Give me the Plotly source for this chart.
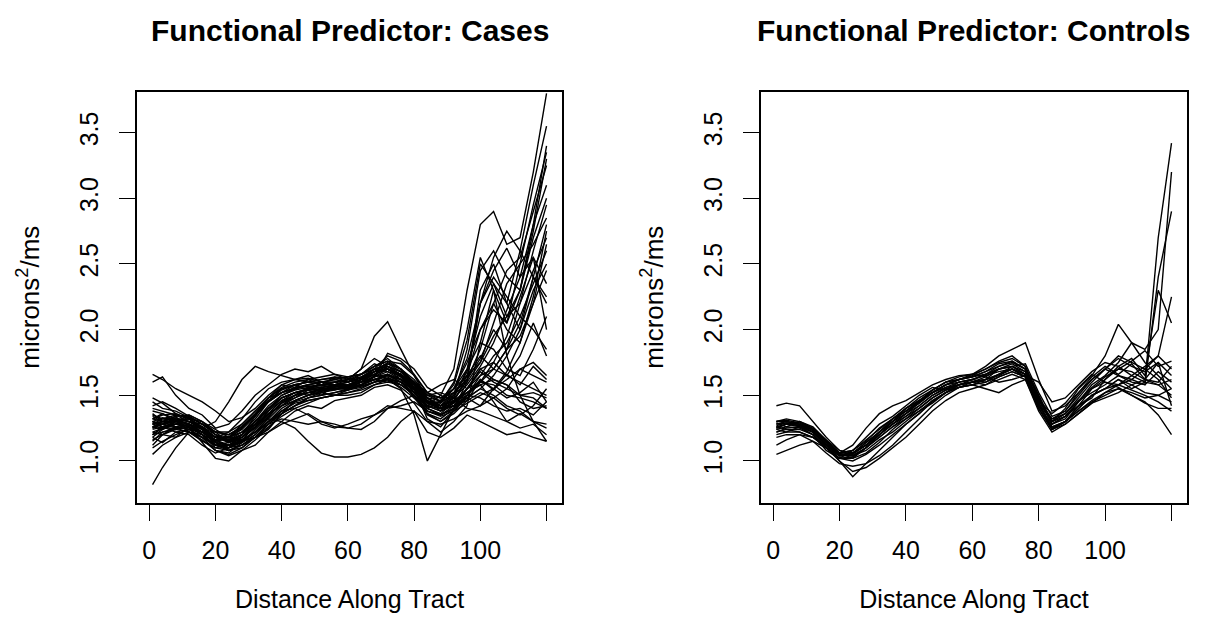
import plotly.graph_objects as go

# ---------------- data ----------------
x_grid = [1, 4, 8, 12, 16, 20, 24, 28, 32, 36, 40, 44, 48, 52, 56, 60,
          64, 68, 72, 76, 80, 84, 88, 92, 96, 100, 104, 108, 112, 116, 120]

cases_values = [
    [1.30, 1.33, 1.31, 1.28, 1.22, 1.15, 1.17, 1.25, 1.35, 1.45, 1.52, 1.55, 1.57, 1.56, 1.58, 1.60, 1.63, 1.70, 1.72, 1.65, 1.55, 1.42, 1.40, 1.48, 1.70, 2.10, 2.35, 2.20, 2.60, 3.10, 3.55],
    [1.25, 1.28, 1.32, 1.30, 1.24, 1.12, 1.10, 1.15, 1.22, 1.33, 1.45, 1.50, 1.52, 1.54, 1.55, 1.55, 1.58, 1.64, 1.66, 1.60, 1.50, 1.35, 1.30, 1.38, 1.50, 1.62, 1.55, 1.48, 1.52, 1.60, 1.45],
    [1.40, 1.38, 1.35, 1.30, 1.25, 1.18, 1.15, 1.20, 1.30, 1.40, 1.48, 1.52, 1.50, 1.53, 1.57, 1.55, 1.60, 1.68, 1.75, 1.70, 1.58, 1.45, 1.42, 1.50, 1.85, 2.45, 2.60, 2.40, 2.30, 2.75, 3.30],
    [1.15, 1.22, 1.25, 1.28, 1.20, 1.10, 1.08, 1.12, 1.20, 1.30, 1.38, 1.45, 1.48, 1.50, 1.52, 1.54, 1.58, 1.62, 1.64, 1.58, 1.50, 1.38, 1.35, 1.42, 1.55, 1.60, 1.70, 1.85, 2.20, 2.60, 2.95],
    [1.66, 1.62, 1.55, 1.50, 1.45, 1.38, 1.30, 1.33, 1.40, 1.50, 1.58, 1.62, 1.65, 1.60, 1.62, 1.64, 1.66, 1.72, 1.78, 1.70, 1.62, 1.50, 1.45, 1.55, 1.75, 2.00, 2.15, 2.05, 2.30, 2.70, 3.00],
    [0.82, 0.95, 1.10, 1.22, 1.20, 1.12, 1.08, 1.12, 1.18, 1.28, 1.36, 1.42, 1.46, 1.48, 1.50, 1.52, 1.55, 1.60, 1.62, 1.56, 1.48, 1.36, 1.32, 1.40, 1.60, 2.30, 2.50, 2.20, 2.00, 2.40, 2.80],
    [1.28, 1.32, 1.35, 1.33, 1.25, 1.30, 1.45, 1.62, 1.72, 1.68, 1.65, 1.62, 1.60, 1.62, 1.64, 1.63, 1.60, 1.62, 1.65, 1.60, 1.52, 1.42, 1.45, 1.55, 1.65, 1.80, 1.70, 1.65, 1.60, 1.55, 1.50],
    [1.32, 1.30, 1.28, 1.25, 1.20, 1.15, 1.18, 1.22, 1.28, 1.32, 1.30, 1.25, 1.15, 1.06, 1.03, 1.03, 1.05, 1.10, 1.18, 1.30, 1.38, 1.22, 1.18, 1.25, 1.35, 1.30, 1.25, 1.20, 1.22, 1.18, 1.15],
    [1.20, 1.22, 1.24, 1.22, 1.15, 1.10, 1.12, 1.15, 1.18, 1.22, 1.28, 1.32, 1.36, 1.30, 1.26, 1.25, 1.28, 1.35, 1.42, 1.40, 1.38, 1.30, 1.28, 1.32, 1.38, 1.42, 1.48, 1.55, 1.70, 1.65, 1.60],
    [1.26, 1.28, 1.32, 1.30, 1.26, 1.18, 1.16, 1.22, 1.32, 1.45, 1.52, 1.55, 1.58, 1.57, 1.60, 1.62, 1.70, 1.95, 2.06, 1.85, 1.65, 1.48, 1.42, 1.52, 1.65, 1.75, 1.95, 2.10, 2.30, 2.80, 3.40],
    [1.22, 1.25, 1.28, 1.26, 1.20, 1.12, 1.10, 1.16, 1.26, 1.38, 1.48, 1.52, 1.54, 1.55, 1.56, 1.58, 1.62, 1.66, 1.62, 1.55, 1.35, 1.00, 1.20, 1.40, 1.55, 1.70, 1.75, 1.65, 1.80, 2.05, 1.80],
    [1.35, 1.32, 1.30, 1.28, 1.22, 1.16, 1.18, 1.26, 1.36, 1.46, 1.52, 1.56, 1.58, 1.60, 1.62, 1.60, 1.63, 1.68, 1.70, 1.64, 1.52, 1.42, 1.50, 1.70, 2.30, 2.80, 2.90, 2.65, 2.70, 3.20, 3.80],
    [1.30, 1.26, 1.24, 1.28, 1.25, 1.18, 1.14, 1.18, 1.25, 1.35, 1.44, 1.50, 1.52, 1.55, 1.55, 1.57, 1.60, 1.64, 1.68, 1.65, 1.58, 1.48, 1.42, 1.46, 1.52, 1.58, 1.62, 1.58, 1.45, 1.40, 1.42],
    [1.10, 1.15, 1.20, 1.24, 1.18, 1.08, 1.04, 1.08, 1.16, 1.25, 1.36, 1.42, 1.48, 1.50, 1.52, 1.55, 1.57, 1.60, 1.62, 1.58, 1.52, 1.40, 1.35, 1.40, 1.48, 1.55, 1.65, 1.80, 2.00, 2.30, 2.50],
    [1.45, 1.40, 1.38, 1.33, 1.28, 1.22, 1.20, 1.26, 1.35, 1.45, 1.55, 1.58, 1.60, 1.58, 1.55, 1.56, 1.58, 1.62, 1.66, 1.62, 1.55, 1.45, 1.44, 1.52, 1.62, 1.85, 2.20, 2.45, 2.55, 2.90, 3.25],
    [1.28, 1.30, 1.30, 1.26, 1.20, 1.12, 1.14, 1.20, 1.30, 1.38, 1.46, 1.50, 1.55, 1.58, 1.60, 1.62, 1.66, 1.72, 1.76, 1.70, 1.60, 1.45, 1.40, 1.45, 1.55, 1.68, 1.60, 1.55, 1.50, 1.48, 1.40],
    [1.25, 1.28, 1.30, 1.28, 1.22, 1.14, 1.12, 1.16, 1.22, 1.28, 1.32, 1.30, 1.28, 1.30, 1.28, 1.25, 1.24, 1.30, 1.40, 1.46, 1.50, 1.42, 1.38, 1.42, 1.50, 1.60, 1.58, 1.50, 1.48, 1.45, 1.40],
    [1.18, 1.24, 1.30, 1.35, 1.30, 1.20, 1.15, 1.18, 1.26, 1.36, 1.46, 1.52, 1.55, 1.56, 1.58, 1.58, 1.60, 1.64, 1.70, 1.66, 1.56, 1.40, 1.36, 1.45, 1.65, 2.00, 2.20, 2.00, 1.90, 2.20, 2.65],
    [1.38, 1.36, 1.32, 1.28, 1.24, 1.18, 1.22, 1.32, 1.45, 1.55, 1.60, 1.62, 1.63, 1.60, 1.58, 1.56, 1.58, 1.65, 1.72, 1.68, 1.60, 1.50, 1.48, 1.55, 1.70, 1.90, 1.85, 1.70, 1.65, 1.85, 2.10],
    [1.22, 1.20, 1.24, 1.26, 1.22, 1.16, 1.12, 1.14, 1.20, 1.30, 1.40, 1.46, 1.50, 1.52, 1.55, 1.56, 1.60, 1.68, 1.72, 1.68, 1.60, 1.48, 1.40, 1.42, 1.48, 1.55, 1.50, 1.42, 1.38, 1.30, 1.28],
    [1.32, 1.35, 1.36, 1.32, 1.26, 1.20, 1.18, 1.22, 1.30, 1.40, 1.50, 1.55, 1.58, 1.60, 1.60, 1.58, 1.62, 1.70, 1.80, 1.76, 1.66, 1.52, 1.45, 1.50, 1.60, 1.75, 2.05, 2.35, 2.50, 2.65, 2.85],
    [1.05, 1.12, 1.18, 1.22, 1.16, 1.08, 1.05, 1.10, 1.18, 1.28, 1.38, 1.44, 1.46, 1.48, 1.50, 1.50, 1.52, 1.58, 1.62, 1.60, 1.55, 1.45, 1.40, 1.42, 1.46, 1.52, 1.48, 1.40, 1.35, 1.42, 1.55],
    [1.28, 1.30, 1.34, 1.35, 1.30, 1.22, 1.20, 1.26, 1.36, 1.48, 1.56, 1.60, 1.62, 1.64, 1.66, 1.64, 1.66, 1.72, 1.76, 1.74, 1.65, 1.52, 1.48, 1.52, 1.62, 2.20, 2.55, 2.75, 2.60, 2.40, 2.25],
    [1.20, 1.25, 1.28, 1.30, 1.28, 1.20, 1.14, 1.16, 1.22, 1.32, 1.42, 1.48, 1.52, 1.53, 1.55, 1.55, 1.57, 1.60, 1.63, 1.60, 1.54, 1.44, 1.42, 1.46, 1.52, 1.60, 1.75, 1.95, 2.25, 2.55, 2.00],
    [1.34, 1.30, 1.26, 1.24, 1.22, 1.18, 1.16, 1.20, 1.28, 1.36, 1.42, 1.46, 1.50, 1.52, 1.54, 1.56, 1.58, 1.62, 1.65, 1.62, 1.56, 1.46, 1.42, 1.45, 1.50, 1.48, 1.42, 1.38, 1.40, 1.35, 1.45],
    [1.30, 1.28, 1.26, 1.24, 1.18, 1.12, 1.10, 1.14, 1.22, 1.30, 1.38, 1.40, 1.35, 1.28, 1.25, 1.28, 1.32, 1.35, 1.40, 1.42, 1.45, 1.38, 1.35, 1.40, 1.50, 1.65, 1.80, 1.90, 2.10, 2.35, 2.60],
    [1.26, 1.30, 1.33, 1.30, 1.25, 1.18, 1.18, 1.24, 1.34, 1.46, 1.54, 1.58, 1.60, 1.60, 1.60, 1.62, 1.64, 1.70, 1.74, 1.68, 1.58, 1.46, 1.42, 1.48, 1.58, 1.72, 1.90, 2.15, 2.40, 2.80, 3.10],
    [1.16, 1.20, 1.26, 1.28, 1.24, 1.16, 1.10, 1.12, 1.18, 1.26, 1.34, 1.40, 1.44, 1.48, 1.50, 1.52, 1.54, 1.58, 1.60, 1.58, 1.50, 1.38, 1.34, 1.38, 1.44, 1.50, 1.55, 1.62, 1.70, 1.75, 1.65],
    [1.42, 1.45, 1.40, 1.34, 1.28, 1.22, 1.22, 1.28, 1.38, 1.48, 1.55, 1.58, 1.60, 1.62, 1.63, 1.64, 1.66, 1.70, 1.72, 1.66, 1.58, 1.48, 1.46, 1.55, 1.78, 2.20, 2.40, 2.25, 2.10, 2.00, 1.85],
    [1.24, 1.26, 1.28, 1.27, 1.22, 1.14, 1.12, 1.18, 1.28, 1.40, 1.48, 1.52, 1.54, 1.54, 1.56, 1.58, 1.62, 1.68, 1.70, 1.64, 1.55, 1.42, 1.38, 1.44, 1.55, 1.65, 1.70, 1.85, 1.95, 2.20, 2.45],
    [1.30, 1.28, 1.25, 1.22, 1.18, 1.12, 1.12, 1.18, 1.28, 1.40, 1.48, 1.52, 1.55, 1.56, 1.57, 1.57, 1.60, 1.66, 1.70, 1.66, 1.58, 1.45, 1.45, 1.60, 2.00, 2.55, 2.30, 1.80, 1.50, 1.30, 1.15],
    [1.28, 1.26, 1.30, 1.32, 1.26, 1.18, 1.16, 1.20, 1.30, 1.42, 1.50, 1.54, 1.56, 1.58, 1.58, 1.60, 1.64, 1.68, 1.70, 1.66, 1.58, 1.44, 1.40, 1.44, 1.52, 1.58, 1.45, 1.30, 1.25, 1.28, 1.20],
    [1.60, 1.64, 1.50, 1.40, 1.35, 1.25, 1.28, 1.38, 1.50, 1.58, 1.66, 1.70, 1.68, 1.72, 1.66, 1.62, 1.70, 1.78, 1.72, 1.68, 1.60, 1.52, 1.58, 1.62, 1.55, 1.70, 1.62, 1.58, 1.50, 1.52, 1.48],
    [1.12, 1.20, 1.18, 1.26, 1.14, 1.02, 1.00, 1.08, 1.12, 1.22, 1.30, 1.38, 1.42, 1.40, 1.46, 1.48, 1.50, 1.56, 1.58, 1.54, 1.44, 1.30, 1.22, 1.30, 1.42, 1.90, 2.30, 2.05, 2.50, 2.95, 3.35],
    [1.36, 1.30, 1.34, 1.22, 1.18, 1.08, 1.06, 1.14, 1.24, 1.34, 1.44, 1.48, 1.54, 1.50, 1.58, 1.54, 1.58, 1.62, 1.60, 1.66, 1.56, 1.32, 1.26, 1.38, 1.48, 1.42, 1.55, 1.68, 1.90, 2.25, 2.75],
    [1.20, 1.26, 1.22, 1.20, 1.12, 1.06, 1.10, 1.20, 1.34, 1.48, 1.58, 1.56, 1.62, 1.58, 1.64, 1.60, 1.66, 1.74, 1.70, 1.62, 1.48, 1.40, 1.46, 1.58, 1.92, 2.50, 2.35, 2.10, 2.20, 2.45, 2.70],
    [1.48, 1.44, 1.36, 1.32, 1.30, 1.24, 1.18, 1.16, 1.22, 1.30, 1.36, 1.42, 1.48, 1.52, 1.50, 1.54, 1.56, 1.60, 1.66, 1.62, 1.58, 1.50, 1.52, 1.48, 1.40, 1.38, 1.34, 1.30, 1.36, 1.30, 1.25],
    [1.18, 1.14, 1.22, 1.24, 1.26, 1.14, 1.08, 1.10, 1.18, 1.24, 1.36, 1.46, 1.50, 1.56, 1.54, 1.58, 1.62, 1.66, 1.74, 1.70, 1.60, 1.46, 1.38, 1.50, 1.68, 2.20, 2.45, 2.62, 2.40, 2.55, 2.35],
    [1.32, 1.36, 1.30, 1.32, 1.24, 1.16, 1.18, 1.28, 1.38, 1.48, 1.52, 1.58, 1.54, 1.60, 1.58, 1.62, 1.58, 1.64, 1.82, 1.78, 1.70, 1.56, 1.50, 1.46, 1.62, 1.78, 2.00, 1.85, 2.05, 2.40, 2.20],
    [1.26, 1.24, 1.28, 1.34, 1.28, 1.22, 1.14, 1.18, 1.26, 1.36, 1.42, 1.50, 1.56, 1.54, 1.58, 1.56, 1.62, 1.70, 1.68, 1.62, 1.54, 1.36, 1.30, 1.36, 1.46, 1.62, 1.54, 1.66, 1.58, 1.72, 1.62],
]

controls_values = [
    [1.25, 1.28, 1.27, 1.22, 1.12, 1.04, 1.06, 1.14, 1.22, 1.30, 1.36, 1.44, 1.52, 1.58, 1.62, 1.64, 1.68, 1.72, 1.76, 1.70, 1.42, 1.26, 1.30, 1.40, 1.50, 1.55, 1.62, 1.55, 1.60, 2.70, 3.42],
    [1.42, 1.44, 1.42, 1.30, 1.18, 1.08, 1.06, 1.12, 1.20, 1.28, 1.36, 1.45, 1.54, 1.60, 1.62, 1.65, 1.70, 1.75, 1.78, 1.72, 1.50, 1.30, 1.36, 1.48, 1.60, 1.70, 1.80, 1.75, 1.70, 1.80, 2.25],
    [1.05, 1.08, 1.12, 1.15, 1.10, 1.02, 1.00, 1.05, 1.12, 1.20, 1.28, 1.36, 1.45, 1.52, 1.58, 1.60, 1.62, 1.65, 1.70, 1.66, 1.40, 1.24, 1.30, 1.38, 1.45, 1.50, 1.55, 1.50, 1.45, 1.35, 1.20],
    [1.30, 1.32, 1.30, 1.25, 1.15, 1.06, 1.08, 1.15, 1.25, 1.32, 1.40, 1.46, 1.52, 1.58, 1.60, 1.62, 1.66, 1.72, 1.75, 1.70, 1.48, 1.28, 1.32, 1.45, 1.58, 1.65, 1.75, 1.90, 1.85, 2.00, 3.20],
    [1.22, 1.24, 1.24, 1.20, 1.10, 1.00, 0.92, 0.95, 1.02, 1.10, 1.18, 1.28, 1.38, 1.46, 1.52, 1.55, 1.58, 1.62, 1.66, 1.62, 1.38, 1.22, 1.28, 1.36, 1.44, 1.52, 1.58, 1.54, 1.50, 1.45, 1.38],
    [1.28, 1.30, 1.28, 1.24, 1.14, 1.05, 1.04, 1.10, 1.20, 1.30, 1.40, 1.48, 1.54, 1.60, 1.64, 1.66, 1.70, 1.76, 1.80, 1.72, 1.46, 1.30, 1.40, 1.55, 1.65, 1.80, 2.04, 1.90, 1.75, 1.65, 1.55],
    [1.20, 1.22, 1.22, 1.18, 1.10, 1.02, 1.02, 1.10, 1.18, 1.26, 1.34, 1.42, 1.50, 1.55, 1.58, 1.60, 1.64, 1.70, 1.72, 1.66, 1.44, 1.26, 1.30, 1.40, 1.50, 1.55, 1.58, 1.65, 1.72, 1.80, 1.70],
    [1.27, 1.29, 1.27, 1.24, 1.15, 1.06, 1.08, 1.16, 1.24, 1.32, 1.38, 1.46, 1.54, 1.60, 1.62, 1.64, 1.66, 1.70, 1.72, 1.66, 1.46, 1.32, 1.38, 1.50, 1.62, 1.70, 1.65, 1.60, 1.58, 2.40, 2.90],
    [1.18, 1.20, 1.20, 1.15, 1.06, 0.98, 0.96, 0.98, 1.04, 1.12, 1.22, 1.32, 1.42, 1.50, 1.56, 1.58, 1.60, 1.64, 1.68, 1.64, 1.42, 1.28, 1.34, 1.42, 1.50, 1.55, 1.62, 1.58, 1.52, 1.50, 1.45],
    [1.25, 1.28, 1.30, 1.26, 1.16, 1.06, 1.12, 1.25, 1.36, 1.42, 1.46, 1.52, 1.58, 1.62, 1.65, 1.66, 1.64, 1.60, 1.62, 1.65, 1.60, 1.45, 1.48, 1.58, 1.68, 1.75, 1.72, 1.65, 1.60, 1.58, 1.50],
    [1.30, 1.30, 1.28, 1.22, 1.12, 1.04, 1.06, 1.14, 1.22, 1.30, 1.38, 1.44, 1.52, 1.58, 1.62, 1.66, 1.72, 1.80, 1.85, 1.90, 1.62, 1.38, 1.42, 1.52, 1.62, 1.70, 1.78, 1.72, 1.68, 1.75, 1.65],
    [1.24, 1.26, 1.25, 1.20, 1.10, 1.02, 1.03, 1.10, 1.18, 1.26, 1.32, 1.40, 1.48, 1.54, 1.56, 1.58, 1.55, 1.52, 1.58, 1.62, 1.40, 1.25, 1.30, 1.38, 1.46, 1.52, 1.55, 1.52, 1.48, 1.50, 1.55],
    [1.26, 1.28, 1.26, 1.22, 1.12, 1.04, 1.04, 1.10, 1.20, 1.28, 1.36, 1.42, 1.50, 1.56, 1.60, 1.62, 1.66, 1.70, 1.74, 1.68, 1.44, 1.24, 1.28, 1.36, 1.44, 1.48, 1.52, 1.58, 1.62, 1.75, 1.42],
    [1.22, 1.25, 1.26, 1.22, 1.12, 1.00, 0.88, 0.98, 1.08, 1.18, 1.28, 1.36, 1.46, 1.52, 1.58, 1.62, 1.65, 1.68, 1.70, 1.64, 1.40, 1.24, 1.30, 1.42, 1.55, 1.60, 1.58, 1.62, 1.70, 1.62, 1.48],
    [1.28, 1.29, 1.28, 1.23, 1.13, 1.05, 1.06, 1.12, 1.22, 1.30, 1.38, 1.45, 1.52, 1.58, 1.62, 1.64, 1.68, 1.74, 1.76, 1.70, 1.48, 1.30, 1.34, 1.45, 1.55, 1.62, 1.72, 1.78, 1.65, 2.30, 2.05],
    [1.12, 1.16, 1.20, 1.18, 1.10, 1.04, 1.05, 1.12, 1.22, 1.32, 1.40, 1.46, 1.52, 1.56, 1.58, 1.60, 1.62, 1.66, 1.70, 1.64, 1.46, 1.32, 1.36, 1.46, 1.56, 1.64, 1.70, 1.68, 1.62, 1.60, 1.72],
    [1.30, 1.31, 1.29, 1.24, 1.14, 1.06, 1.06, 1.12, 1.20, 1.28, 1.34, 1.40, 1.48, 1.54, 1.58, 1.60, 1.62, 1.66, 1.70, 1.66, 1.44, 1.30, 1.36, 1.46, 1.52, 1.58, 1.65, 1.62, 1.58, 1.68, 1.60],
    [1.24, 1.22, 1.26, 1.20, 1.08, 1.02, 1.08, 1.18, 1.28, 1.34, 1.42, 1.50, 1.56, 1.54, 1.60, 1.62, 1.60, 1.66, 1.72, 1.74, 1.52, 1.34, 1.38, 1.52, 1.64, 1.72, 1.66, 1.74, 1.62, 1.58, 1.62],
    [1.29, 1.26, 1.30, 1.24, 1.16, 1.08, 1.04, 1.08, 1.16, 1.22, 1.30, 1.38, 1.44, 1.52, 1.56, 1.58, 1.62, 1.70, 1.72, 1.68, 1.50, 1.28, 1.34, 1.42, 1.48, 1.62, 1.70, 1.76, 1.84, 1.72, 1.76],
    [1.26, 1.24, 1.22, 1.18, 1.12, 1.06, 1.02, 1.06, 1.14, 1.24, 1.32, 1.38, 1.46, 1.52, 1.56, 1.60, 1.58, 1.64, 1.68, 1.64, 1.46, 1.36, 1.44, 1.56, 1.66, 1.60, 1.56, 1.50, 1.44, 1.40, 1.40],
]

panel_titles = ["Functional Predictor: Cases", "Functional Predictor: Controls"]
x_tick_vals = [0, 20, 40, 60, 80, 100]
x_tick_text = ["0", "20", "40", "60", "80", "100"]
x_unlabeled_ticks = [120]
y_tick_vals = [1.0, 1.5, 2.0, 2.5, 3.0, 3.5]
y_tick_text = ["1.0", "1.5", "2.0", "2.5", "3.0", "3.5"]
x_label = "Distance Along Tract"
y_label = "microns<sup>2</sup>/ms"

# ---------------- figure ----------------
W, H = 1209, 630
FONT = "Liberation Sans, Arial, Helvetica, sans-serif"
fig = go.Figure()

for vals in cases_values:
    fig.add_trace(go.Scatter(x=x_grid, y=vals, mode="lines", xaxis="x", yaxis="y",
                             line=dict(color="black", width=1.4), showlegend=False,
                             hoverinfo="skip"))
for vals in controls_values:
    fig.add_trace(go.Scatter(x=x_grid, y=vals, mode="lines", xaxis="x2", yaxis="y2",
                             line=dict(color="black", width=1.4), showlegend=False,
                             hoverinfo="skip"))

xdom1 = [136.8 / W, 562.3 / W]
xdom2 = [760.6 / W, 1187.3 / W]
ydom = [(H - 502.7) / H, (H - 91.7) / H]

xcommon = dict(range=[-3.76, 124.76], tickmode="array", tickvals=x_tick_vals,
               ticktext=x_tick_text, ticks="outside", ticklen=16, tickwidth=1.3,
               tickcolor="black", showline=True, linecolor="black", linewidth=1.7,
               mirror=True, showgrid=False, zeroline=False,
               minor=dict(tickmode="array", tickvals=x_unlabeled_ticks, ticks="outside",
                          ticklen=16, tickwidth=1.3, tickcolor="black", showgrid=False),
               tickfont=dict(family=FONT, size=25, color="black"),
               ticklabelstandoff=8,
               title=dict(text=x_label, font=dict(family=FONT, size=25, color="black"),
                          standoff=28))
ycommon = dict(range=[0.682, 3.812], tickmode="array", tickvals=y_tick_vals,
               ticktext=y_tick_text, ticks="outside", ticklen=16, tickwidth=1.3,
               tickcolor="black", showline=True, linecolor="black", linewidth=1.7,
               mirror=True, showgrid=False, zeroline=False, tickangle=-90,
               tickfont=dict(family=FONT, size=25, color="black"),
               ticklabelstandoff=11,
               title=dict(text=y_label, font=dict(family=FONT, size=26, color="black"),
                          standoff=28))

fig.update_layout(
    width=W, height=H,
    margin=dict(l=0, r=0, t=0, b=0),
    paper_bgcolor="white", plot_bgcolor="white",
    xaxis=dict(domain=xdom1, anchor="y", **xcommon),
    yaxis=dict(domain=ydom, anchor="x", **ycommon),
    xaxis2=dict(domain=xdom2, anchor="y2", **xcommon),
    yaxis2=dict(domain=ydom, anchor="x2", **ycommon),
    annotations=[
        dict(text="<b>%s</b>" % panel_titles[0], x=(xdom1[0] + xdom1[1]) / 2, y=1 - 30 / H,
             xref="paper", yref="paper", showarrow=False, xanchor="center", yanchor="middle",
             font=dict(family=FONT, size=30, color="black")),
        dict(text="<b>%s</b>" % panel_titles[1], x=(xdom2[0] + xdom2[1]) / 2, y=1 - 30 / H,
             xref="paper", yref="paper", showarrow=False, xanchor="center", yanchor="middle",
             font=dict(family=FONT, size=30, color="black")),
    ],
)

fig.write_html("out.html")
